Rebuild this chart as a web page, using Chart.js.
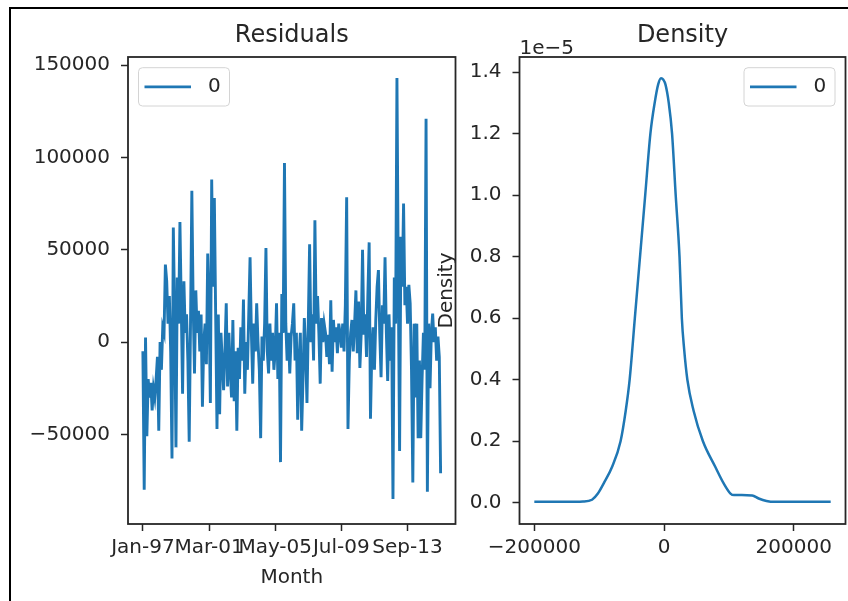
<!DOCTYPE html>
<html><head><meta charset="utf-8">
<script src="https://cdn.jsdelivr.net/npm/chart.js@4/dist/chart.umd.min.js"></script>
<style>
html,body{margin:0;padding:0;background:#fff;}
#wrap{position:relative;width:848px;height:601px;overflow:hidden;background:#fff;}
#frame{position:absolute;left:9px;top:7px;width:900px;height:700px;border-left:2px solid #000;border-top:2px solid #000;}
canvas{position:absolute;left:0;top:0;}
</style></head><body>
<div id="wrap"><div id="frame"></div>
<canvas id="c1" width="848" height="601"></canvas>
<canvas id="c2" width="848" height="601"></canvas>
</div>
<script>
// ---- data: residuals (monthly, from Jan-97) ----
const residuals = [
  -5000, -80000, 2500, -51000, -20000, -30000, -22000, -37000, -25000, -30000,
  -20000, -8000, -48000, 0, -15000, 8000, 5000, 42000, 33000, 10000,
  25000, -5000, -63000, 62000, 15000, -57000, 35000, 10000, 65000, 20000,
  -28000, 33000, 5000, 15000, -10000, -54000, 10000, 82000, 20000, -17000,
  28000, 5000, 17000, -5000, 15000, -35000, 0, 10000, -12000, 48000,
  20000, -33000, 88000, 30000, 78000, 15000, -47000, 15000, -39000, 5000,
  -10000, -26000, -5000, 21000, -24000, 5000, -15000, -30000, 12000, -32000,
  -5000, -48000, -3000, -20000, 8000, -10000, 23000, -28000, 0, -15000,
  15000, 46000, 5000, -22500, 10000, -5000, 21000, 0, -15000, -52000,
  3000, -10000, 10000, 51000, -5000, -17000, 10000, -10000, 5000, -15000,
  -5000, 21000, -20000, 5000, -65000, 26000, 5000, 97000, 10000, -10000,
  5000, -17000, 3000, 10000, 21000, -10000, 5000, -42000, -10000, 5000,
  -48000, -20000, 13000, -5000, -33000, 10000, 53000, 0, 15000, -10000,
  66000, 10000, 25000, 5000, -22500, 13000, 0, 10000, 5000, -8000,
  4000, -12000, 22600, -16000, 12000, 0, 8000, -6000, 10000, 5000,
  -3000, 10000, -5000, 20000, 78500, -47000, -10000, 5000, 12000, -5000,
  10000, 28000, -6000, 22000, -14000, 5000, 50000, 4000, 15000, -8000,
  25000, 54000, -41500, -5000, 8000, -15000, 12000, 30000, 39000, 5000,
  -19000, 20000, 10000, 46000, 5000, -21000, 15000, -10000, 8000, -85000,
  35000, 10000, 143000, 35000, -59000, 57000, 30000, 75000, 20000, 30000,
  10000, 31000, 21000, -15000, -76000, 10000, -30000, 10000, -52000, -10000,
  -52000, -20000, 5000, -15000, 121000, -81000, 10000, -25000, 5000, 15500,
  0, 8000, -10000, 3000, -8000, -71000
];
const monthNames = ['Jan','Feb','Mar','Apr','May','Jun','Jul','Aug','Sep','Oct','Nov','Dec'];
const months = residuals.map((_, i) => monthNames[i % 12] + '-' + String((1997 + Math.floor(i / 12)) % 100).padStart(2, '0'));
const residualXTicks = [0, 50, 100, 150, 200];           // Jan-97, Mar-01, May-05, Jul-09, Sep-13
const residualYTicks = [-50000, 0, 50000, 100000, 150000];

// ---- data: kernel density of residuals (y in units of 1e-5) ----
const densityX = [-200000, -150000, -125000, -111000, -102000, -93000, -80000, -67000, -59000, -53000,
  -45000, -37000, -29000, -21000, -14400, -9000, -4600, -1000, 2200, 7300,
  12400, 18000, 23900, 27500, 31000, 36000, 45500, 60000, 79000, 92000,
  102500, 108000, 120000, 136000, 146000, 158000, 170000, 200000, 257000];
const densityY = [0.003, 0.003, 0.004, 0.01, 0.03, 0.063, 0.117, 0.2, 0.3, 0.4,
  0.6, 0.8, 1.0, 1.2, 1.3, 1.36, 1.38, 1.375, 1.36, 1.3,
  1.2, 1.0, 0.8, 0.6, 0.5, 0.4, 0.3, 0.2, 0.117, 0.063,
  0.03, 0.025, 0.025, 0.024, 0.014, 0.006, 0.003, 0.003, 0.003];
const densityXTicks = [-200000, 0, 200000];
const densityYTicks = [0, 0.2, 0.4, 0.6, 0.8, 1.0, 1.2, 1.4];

const C0 = '#1f77b4';
const INK = '#262626';
const fmtNum = v => (v < 0 ? '\u2212' + Math.abs(v) : String(v));

Chart.defaults.font.family = '"DejaVu Sans", sans-serif';
Chart.defaults.font.size = 20;
Chart.defaults.color = INK;

const frameLines = {
  id: 'frameLines',
  afterDatasetsDraw(chart) {
    const {ctx, chartArea: a} = chart;
    ctx.save();
    ctx.strokeStyle = INK;
    ctx.lineWidth = 1.8;
    ctx.strokeRect(a.left, a.top, a.right - a.left, a.bottom - a.top);
    ctx.restore();
  }
};
const boxLegend = {
  id: 'boxLegend',
  afterDraw(chart, args, opts) {
    const {ctx, chartArea: a} = chart;
    const ds = chart.data.datasets[0];
    const w = 91, h = 38.3;
    const x0 = opts.side === 'left' ? a.left + 10.5 : a.right - 10.5 - w;
    const y0 = a.top + 10.7;
    ctx.save();
    ctx.beginPath(); ctx.roundRect(x0, y0, w, h, 4);
    ctx.fillStyle = 'rgba(255,255,255,0.8)'; ctx.fill();
    ctx.strokeStyle = '#d4d4d4'; ctx.lineWidth = 1; ctx.stroke();
    ctx.beginPath(); ctx.moveTo(x0 + 6, y0 + h / 2); ctx.lineTo(x0 + 52.5, y0 + h / 2);
    ctx.strokeStyle = ds.borderColor; ctx.lineWidth = 2.8; ctx.stroke();
    ctx.fillStyle = INK; ctx.font = '20px "DejaVu Sans"';
    ctx.textBaseline = 'middle'; ctx.textAlign = 'left';
    ctx.fillText(ds.label, x0 + 69.5, y0 + h / 2);
    ctx.restore();
  }
};
const offsetText = {
  id: 'offsetText',
  afterDraw(chart, args, opts) {
    if (!opts.text) return;
    const {ctx, chartArea: a} = chart;
    ctx.save();
    ctx.fillStyle = INK; ctx.font = '20px "DejaVu Sans"';
    ctx.textBaseline = 'alphabetic'; ctx.textAlign = 'left';
    ctx.fillText(opts.text, a.left, a.top - 3);
    ctx.restore();
  }
};

const tickGrid = {drawOnChartArea: false, drawTicks: true, tickLength: 7, tickWidth: 1.5, tickColor: INK};

// ---- Residuals chart ----
const nLast = residuals.length - 1;
new Chart(document.getElementById('c1'), {
  type: 'line',
  data: {
    datasets: [{
      label: '0',
      data: residuals.map((v, i) => ({x: i, y: v})),
      borderColor: C0, borderWidth: 2.9, pointRadius: 0, tension: 0, fill: false
    }]
  },
  options: {
    responsive: false, animation: false, devicePixelRatio: 1,
    layout: {padding: {left: 12, right: 392.5, top: 21.6, bottom: 0}},
    plugins: {
      legend: {display: false}, tooltip: {enabled: false},
      title: {display: true, text: 'Residuals', fullSize: false, color: INK,
        font: {size: 24, weight: 'normal'}, padding: {top: 0, bottom: 6.6}},
      boxLegend: {side: 'left'}
    },
    scales: {
      x: {
        type: 'linear', min: -0.05 * nLast, max: 1.05 * nLast,
        afterBuildTicks: s => { s.ticks = residualXTicks.map(v => ({value: v})); },
        afterFit: s => { s.height = 77; },
        ticks: {autoSkip: false, maxRotation: 0, minRotation: 0, padding: 5, color: INK,
          callback: v => months[v]},
        grid: tickGrid, border: {display: false},
        title: {display: true, text: 'Month', color: INK, padding: {top: 0, bottom: 11.3}}
      },
      y: {
        type: 'linear', min: -98500, max: 154400,
        afterBuildTicks: s => { s.ticks = residualYTicks.map(v => ({value: v})); },
        afterFit: s => { s.width = 116; },
        ticks: {padding: 11, color: INK, callback: v => fmtNum(v)},
        grid: tickGrid, border: {display: false}
      }
    }
  },
  plugins: [frameLines, boxLegend]
});

// ---- Density chart ----
new Chart(document.getElementById('c2'), {
  type: 'line',
  data: {
    datasets: [{
      label: '0',
      data: densityX.map((x, i) => ({x: x, y: densityY[i]})),
      borderColor: C0, borderWidth: 2.5, pointRadius: 0,
      cubicInterpolationMode: 'monotone', fill: false
    }]
  },
  options: {
    responsive: false, animation: false, devicePixelRatio: 1,
    layout: {padding: {left: 430, right: 2.5, top: 21.6, bottom: 0}},
    plugins: {
      legend: {display: false}, tooltip: {enabled: false},
      title: {display: true, text: 'Density', fullSize: false, color: INK,
        font: {size: 24, weight: 'normal'}, padding: {top: 0, bottom: 6.6}},
      boxLegend: {side: 'right'},
      offsetText: {text: '1e\u22125'}
    },
    scales: {
      x: {
        type: 'linear', min: -222850, max: 279850,
        afterBuildTicks: s => { s.ticks = densityXTicks.map(v => ({value: v})); },
        afterFit: s => { s.height = 77; },
        ticks: {autoSkip: false, maxRotation: 0, minRotation: 0, padding: 5, color: INK,
          callback: v => fmtNum(v)},
        grid: tickGrid, border: {display: false}
      },
      y: {
        type: 'linear', min: -0.069, max: 1.449,
        afterBuildTicks: s => { s.ticks = densityYTicks.map(v => ({value: v})); },
        afterFit: s => { s.width = 89.5; },
        ticks: {padding: 11, color: INK, callback: v => v.toFixed(1)},
        grid: tickGrid, border: {display: false},
        title: {display: true, text: 'Density', color: INK, padding: {top: 5, bottom: 0}}
      }
    }
  },
  plugins: [frameLines, boxLegend, offsetText]
});
</script>
</body></html>
